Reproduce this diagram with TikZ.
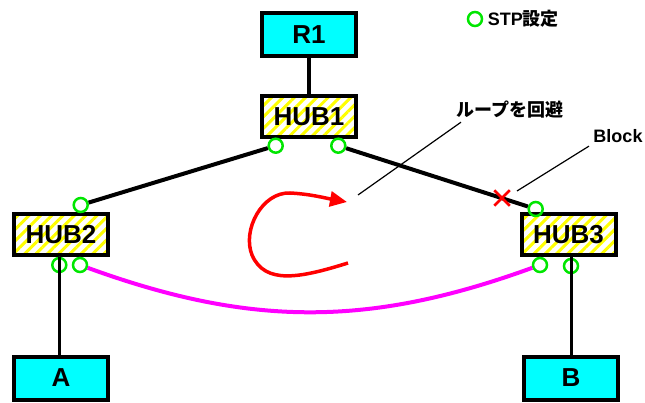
\documentclass[tikz,border=0pt]{standalone}
\usepackage{fontspec}
\setmainfont{Liberation Sans}
\newfontfamily\jpfont{Noto Sans CJK JP}
\usetikzlibrary{positioning,patterns.meta,arrows.meta,shapes.misc}
\definecolor{termcyan}{RGB}{0,255,255}
\definecolor{hubyellow}{RGB}{255,255,0}
\definecolor{stpgreen}{RGB}{0,230,0}
\definecolor{loopmagenta}{RGB}{255,0,255}

\begin{document}
\begin{tikzpicture}[x=1pt, y=-1pt,
    term/.style={draw, line width=4pt, fill=termcyan, minimum width=94pt,
                 minimum height=43pt, font=\fontsize{26}{30}\selectfont\bfseries},
    hub/.style={draw, line width=4pt, pattern color=hubyellow,
                pattern={Lines[angle=45,distance=8pt,line width=3pt]},
                minimum width=94pt, minimum height=41pt,
                font=\fontsize{26}{30}\selectfont\bfseries},
    port/.style={circle, draw=stpgreen, line width=2.5pt, minimum size=14pt, inner sep=0pt},
    link/.style={line width=4pt},
    note/.style={font=\fontsize{18}{21}\selectfont\bfseries},
    lead/.style={line width=1.2pt},
]
\useasboundingbox (0,0) rectangle (645,403);

\node[term] (r1)   at (309,35)    {R1};
\node[hub]  (hub1) at (309,117)   {HUB1};
\node[hub]  (hub2) at (61,234.5)  {HUB2};
\node[hub]  (hub3) at (568.5,235) {HUB3};
\node[term] (a)    at (61,378)    {A};
\node[term] (b)    at (571,378)   {B};

\node[port] (c1) at (275.7,145.7) {};
\node[port] (c2) at (338.3,145.7) {};
\node[port] (c3) at (80.7,205)    {};
\node[port] (c4) at (59.3,265)    {};
\node[port] (c5) at (80,265)      {};
\node[port] (c6) at (535.7,209)   {};
\node[port] (c7) at (540,265)     {};
\node[port] (c8) at (571,266)     {};

\draw[link] (r1) -- (hub1);
\draw[link] (c1) -- (c3);
\draw[link] (c2) -- (c6);
\draw[line width=3pt] (a.north -| c4) -- (hub2.south -| c4);
\draw[line width=3pt] (b.north -| c8) -- (hub3.south -| c8);
\draw[link, loopmagenta] (c5) to[out=-20, in=-160] (c7);

\node[cross out, draw=red, line width=2.5pt, minimum size=13pt, inner sep=0pt] (blockx) at (502,198) {};

\coordinate (loopstart) at (348,263);
\coordinate (looptip)   at (347,202);
\draw[red, line width=3.5pt, -{Triangle[length=17pt,width=15pt]}] (loopstart)
    .. controls (300,278) and (265,285) .. (252,255)
    .. controls (242,230) and (262,192) .. (290,193)
    .. controls (310,194) and (325,198) .. (looptip);

\node[note] (looptext)  at (510,110) {\jpfont ループを回避};
\node[note] (blocktext) at (618,136) {Block};
\coordinate (looplead)  at (358,195);
\coordinate (blocklead) at (517,191);
\draw[lead] ([xshift=8pt]looptext.south west) -- (looplead);
\draw[lead] ([xshift=-1pt]blocktext.south west) -- (blocklead);

\node[port] (legport) at (475,19) {};
\node[note, right=1pt of legport] (legtext) {STP{\jpfont 設定}};
\end{tikzpicture}
\end{document}
